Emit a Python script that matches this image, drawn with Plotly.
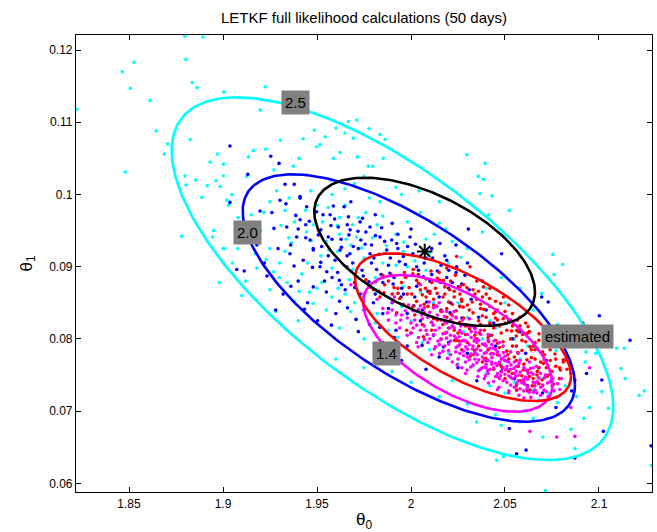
import numpy as np
import plotly.graph_objects as go

# ---------------- axes ----------------
x_range = [1.8218, 2.1282]
y_range = [0.0588, 0.12208]
x_ticks = [1.85, 1.9, 1.95, 2.0, 2.05, 2.1]
x_tick_labels = ["1.85", "1.9", "1.95", "2", "2.05", "2.1"]
y_ticks = [0.06, 0.07, 0.08, 0.09, 0.10, 0.11, 0.12]
y_tick_labels = ["0.06", "0.07", "0.08", "0.09", "0.1", "0.11", "0.12"]

# ---------------- scatter samples (theta0, theta1) ----------------
cyan_pts = [
    (1.8464, .1170), (1.8527, .1183), (1.8507, .1147), (1.8612, .1130), (1.8803, .1187), (1.8837, .1155),
    (1.8862, .1148), (1.9005, .1142), (1.9225, .1149), (1.9198, .1117), (1.8645, .1088), (1.8706, .1070),
    (1.8688, .1056), (1.8480, .1031), (1.8780, .0942), (1.8825, .1076), (1.8931, .1045), (1.8970, .1056),
    (1.9002, .1042), (1.8798, .1026), (1.8803, .1013), (1.8855, .1020), (1.8887, .0996), (1.8916, .1012),
    (1.8963, .1019), (1.8984, .1011), (1.9002, .1026), (1.9020, .0992), (1.9048, .1000), (1.9126, .1025),
    (1.9135, .1052), (1.9161, .1061), (1.9227, .1063), (1.9271, .1034), (1.9305, .1075), (1.9374, .1039),
    (1.9404, .1050), (1.9426, .1077), (1.9486, .1089), (1.9499, .1066), (1.9516, .1069), (1.9544, .1080),
    (1.9587, .1050), (1.9601, .1092), (1.9623, .1058), (1.9649, .1085), (1.9667, .1101), (1.9693, .1078),
    (1.9711, .1103), (1.9715, .1052), (1.9777, .1091), (1.9773, .1039), (1.9796, .1039), (1.9835, .1083),
    (1.9862, .1076), (1.9853, .1050), (1.9009, .0925), (1.9078, .0925), (1.8945, .0941), (1.8797, .1219),
    (1.8893, .1218), (1.8222, .1118), (2.0715, .0590),
    (2.0297, .1055), (2.0394, .1043), (2.0358, .1025), (2.0385, .1021), (2.0367, .1001), (2.0431, .0998),
    (2.0523, .0978), (2.0412, .0972), (2.0754, .0917), (2.0807, .0903), (2.0761, .0889), (2.0695, .0863),
    (2.0917, .0821), (2.0983, .0780), (2.1094, .0787), (2.1135, .0787), (2.1117, .0759), (2.1139, .0745),
    (2.1214, .0722), (2.1241, .0728), (2.1015, .0727), (2.1050, .0704), (2.0926, .0768), (2.0931, .0782),
    (2.0772, .0784), (2.0651, .0729), (2.0701, .0664), (2.0873, .0648), (2.0456, .0632), (2.1280, .0625),
    (2.0349, .0685), (2.0491, .0637),
    (1.955, .0935), (1.948, .0958), (1.962, .0945), (1.938, .0962), (1.945, .0905), (1.952, .0915),
    (1.968, .0930), (1.975, .0912), (1.958, .0898), (1.942, .0890), (1.930, .0905), (1.925, .0925),
    (1.935, .0940), (1.920, .0950), (1.915, .0972), (1.985, .0905), (1.990, .0888), (1.978, .0872),
    (1.965, .0862), (1.950, .0870), (1.938, .0852), (1.925, .0868), (1.912, .0880), (1.905, .0905),
    (1.918, .0898), (1.928, .0838), (1.940, .0825), (1.955, .0840), (1.970, .0850), (1.982, .0835),
    (1.995, .0845), (2.005, .0865), (2.012, .0850), (2.000, .0825), (1.988, .0812), (1.975, .0800),
    (1.962, .0815), (2.018, .0825), (2.028, .0810), (2.038, .0800), (2.045, .0815), (2.035, .0780),
    (2.048, .0765), (2.058, .0772), (2.025, .0765), (2.010, .0785), (2.062, .0755), (2.070, .0745),
    (2.055, .0740), (2.042, .0735), (2.068, .0715), (2.078, .0712), (2.060, .0700), (1.998, .0900),
    (2.008, .0895), (2.020, .0905), (2.030, .0890), (1.972, .0968), (1.982, .0958), (1.992, .0945),
    (1.965, .0985), (1.958, .1000), (1.978, .0995), (1.992, .1010), (2.005, .0975), (2.015, .0960),
    (1.900, .0925), (1.895, .0950), (1.910, .0860), (1.898, .0878), (1.960, .0772), (1.975, .0760),
    (1.990, .0755), (2.000, .0740), (2.015, .0720), (2.030, .0710), (2.045, .0695), (2.022, .0742),
    (1.944, .0978), (1.953, .0962), (1.961, .0921), (1.971, .0941), (1.947, .0936), (1.933, .0921),
    (1.987, .0929), (1.996, .0921), (2.002, .0908), (1.969, .0896), (1.981, .0885), (2.025, .0850),
    (1.925, .0990), (1.933, .0978), (1.941, .0995), (1.950, .0985), (1.956, .0982), (1.962, .0968),
    (1.969, .0958), (1.976, .0975), (1.985, .0970), (1.998, .0962), (1.912, .0945), (1.908, .0968),
    (1.903, .0985), (1.923, .0910), (1.930, .0885), (1.946, .0865), (1.958, .0858), (1.968, .0838),
    (1.981, .0822), (1.993, .0802), (2.006, .0795), (2.020, .0780), (2.033, .0762), (2.040, .0752),
    (2.050, .0725), (2.063, .0730), (2.073, .0725), (2.082, .0735), (2.088, .0720), (2.095, .0705),
    (2.058, .0685), (2.048, .0680), (2.065, .0690), (2.085, .0675), (2.092, .0690), (2.030, .0830),
    (2.042, .0825), (2.055, .0800), (2.062, .0790), (2.072, .0800), (2.083, .0790), (2.090, .0805),
    (2.078, .0820), (2.065, .0840), (2.050, .0850), (2.040, .0870), (2.048, .0885), (2.058, .0870),
    (2.030, .0925), (2.022, .0935), (2.038, .0948), (2.015, .0990), (1.995, .1000), (1.970, .1015),
    (2.008, .0938),
    (1.9445, .0948), (1.9512, .0945), (1.9563, .0923), (1.9608, .0957), (1.9655, .0938), (1.9738, .0926),
    (1.9795, .0940), (1.9859, .0919), (1.9921, .0902), (1.9962, .0934), (2.0041, .0889), (2.0097, .0918),
    (1.9363, .0933), (1.9308, .0957), (1.9269, .0893), (1.9342, .0878), (1.9405, .0866), (1.9479, .0849),
    (1.9526, .0878), (1.9612, .0870), (1.9672, .0882), (1.9745, .0858), (1.9817, .0868), (1.9886, .0856),
    (1.9958, .0872), (2.0027, .0838), (2.0088, .0830), (1.9172, .0918), (1.9098, .0940), (1.9155, .0960),
    (1.9218, .0975), (1.9285, .1005), (1.9352, .0995), (1.9467, .1005), (1.9573, .1020), (1.9648, .1008),
    (1.9750, .1025), (1.9835, .0990), (2.0042, .1005), (2.0124, .0945), (2.0185, .0952), (2.0265, .0913),
]

blue_pts = [
    (1.9037, .1067), (1.9254, .1053), (1.9298, .1043), (1.9132, .1028), (1.9037, .0989), (1.9073, .0896),
    (1.9113, .0894), (1.9197, .0977), (1.9271, .0953), (1.9303, .0992), (1.9330, .1014), (1.9379, .1014),
    (1.9410, .0997), (1.9339, .0955), (1.9410, .0965), (1.9445, .0983), (1.9480, .0923), (1.9507, .0944),
    (1.9335, .0987), (1.9410, .0995), (1.9498, .0976), (1.9587, .0984), (1.9644, .0983), (1.9667, .0969),
    (1.9613, .0955), (1.9676, .0951), (1.9729, .0962), (1.9782, .0955), (1.9835, .0941), (1.9733, .0937),
    (1.9693, .0928), (1.9623, .0923), (1.9560, .0941), (1.9463, .0937), (1.9392, .0941), (1.9356, .0918),
    (1.9427, .0909), (1.9516, .0900), (1.9596, .0909), (1.9658, .0900), (1.9782, .0918), (1.9871, .0923),
    (1.9924, .0932), (1.9959, .0914), (1.9995, .0941), (2.0030, .0900), (2.0154, .0932), (2.0190, .0909),
    (2.0243, .0900), (2.0287, .0888), (1.9817, .0896), (1.9746, .0887), (1.9888, .0891), (1.9977, .0887),
    (2.1002, .0832), (2.1165, .0798), (2.1015, .0743), (2.0934, .0752), (2.0855, .0728), (2.0771, .0705),
    (2.1023, .0672), (2.0872, .0635), (2.0612, .0646), (2.0562, .0641), (2.0523, .0676), (2.1277, .0652),
    (2.0730, .0851), (2.0695, .0858), (2.0482, .0918), (2.0305, .0952), (2.0239, .0930),
    (1.955, .0865), (1.962, .0852), (1.970, .0878), (1.975, .0840), (1.981, .0862), (1.948, .0872),
    (1.958, .0885), (1.965, .0868), (1.990, .0850), (1.995, .0870), (2.002, .0858), (1.985, .0835),
    (1.978, .0820), (1.992, .0812), (2.005, .0825), (2.012, .0805), (2.020, .0795), (2.030, .0780),
    (2.040, .0770), (2.048, .0755), (2.055, .0745), (2.062, .0735), (2.070, .0725), (2.035, .0742),
    (2.025, .0760), (2.015, .0775), (1.998, .0790), (2.045, .0790), (2.058, .0810), (2.065, .0790),
    (2.072, .0770), (2.052, .0825), (2.040, .0840), (2.032, .0855), (2.020, .0870), (2.010, .0880),
    (1.940, .0880), (1.932, .0862), (1.945, .0850), (1.960, .0835), (1.972, .0810), (1.985, .0795),
    (1.995, .0770), (2.008, .0758), (1.928, .0840), (1.952, .0906), (1.966, .0915), (1.979, .0905),
    (1.988, .0902), (2.008, .0912), (2.014, .0894), (2.022, .0878), (1.944, .0958), (1.957, .0972),
    (1.968, .0990), (1.990, .0960), (2.000, .0952), (1.922, .0905), (1.918, .0930), (1.926, .0975),
    (1.952, .0951), (1.958, .0938), (1.963, .0927), (1.967, .0944), (1.972, .0925), (1.976, .0948),
    (1.979, .0930), (1.983, .0917), (1.986, .0935), (1.989, .0912), (1.993, .0925), (1.997, .0903),
    (2.001, .0918), (2.004, .0895), (2.007, .0905), (2.011, .0889), (2.016, .0902), (2.019, .0885),
    (2.024, .0892), (2.027, .0876), (2.031, .0868), (1.985, .0878), (1.991, .0885), (1.996, .0862),
    (2.003, .0873), (2.009, .0866), (2.015, .0858), (2.021, .0850), (1.974, .0895), (1.969, .0905),
    (1.961, .0892), (1.956, .0915), (1.948, .0925), (1.944, .0940), (1.940, .0952), (1.936, .0930),
    (1.954, .0880), (1.963, .0875), (1.973, .0862), (1.980, .0850), (1.988, .0842), (1.998, .0835),
    (2.006, .0840), (2.026, .0845), (2.036, .0830), (2.044, .0822), (2.054, .0800), (2.061, .0780),
    (2.068, .0760), (2.075, .0745), (2.050, .0770), (2.042, .0805), (2.034, .0815), (2.016, .0840),
    (1.993, .0945), (2.011, .0925), (1.981, .0972), (2.018, .0915), (2.030, .0905), (2.038, .0880),
    (1.9525, .0928), (1.9574, .0957), (1.9628, .0938), (1.9675, .0918), (1.9718, .0949), (1.9756, .0931),
    (1.9803, .0912), (1.9844, .0954), (1.9897, .0937), (1.9938, .0907), (1.9982, .0928), (2.0024, .0931),
    (2.0066, .0886), (2.0115, .0912), (2.0157, .0878), (2.0201, .0895), (2.0252, .0872), (1.9476, .0899),
    (1.9552, .0893), (1.9619, .0881), (1.9701, .0871), (1.9776, .0879), (1.9841, .0889), (1.9905, .0876),
    (1.9947, .0858), (2.0015, .0846), (2.0083, .0851), (2.0137, .0845), (2.0208, .0836), (2.0271, .0829),
    (1.9387, .0971), (1.9459, .0963), (1.9532, .0972), (1.9594, .0966), (1.9661, .0958), (1.9742, .0967),
    (1.9811, .0943), (1.9378, .0901), (1.9293, .0925), (1.9234, .0887), (1.9361, .0873), (1.9433, .0841),
    (1.9503, .0825), (1.9577, .0819), (1.9662, .0843), (1.9708, .0827), (1.9834, .0816), (1.9911, .0802),
    (2.0059, .0791), (2.0173, .0789),
]

red_pts = [
    (2.0243, .0914), (2.0314, .0900), (2.0154, .0881), (2.0012, .0896), (2.0101, .0863), (2.0385, .0872),
    (2.0491, .0858), (2.0278, .0844), (2.0190, .0830), (2.0420, .0822), (2.0562, .0812), (2.0633, .0789),
    (2.0598, .0757), (2.0704, .0766), (2.0562, .0729), (2.0456, .0748), (2.0314, .0776), (2.0243, .0798),
    (2.0066, .0803), (1.9977, .0812), (1.9924, .0836), (1.9835, .0858), (1.9782, .0872), (2.0030, .0881),
    (2.0633, .0729), (2.0810, .0771),
    (2.005, .0868), (2.012, .0855), (2.018, .0872), (2.022, .0848), (2.026, .0862), (2.031, .0840),
    (2.035, .0855), (2.038, .0832), (2.042, .0845), (2.046, .0826), (2.050, .0838), (2.054, .0818),
    (2.058, .0830), (2.062, .0808), (2.066, .0795), (2.070, .0782), (2.074, .0770), (2.068, .0760),
    (2.063, .0748), (2.058, .0742), (2.052, .0755), (2.047, .0765), (2.043, .0780), (2.039, .0792),
    (2.034, .0805), (2.029, .0818), (2.024, .0830), (2.019, .0842), (2.014, .0826), (2.009, .0845),
    (2.002, .0833), (1.996, .0848), (1.990, .0862), (1.986, .0875), (1.980, .0868), (1.976, .0882),
    (1.995, .0878), (2.001, .0890), (2.008, .0883), (2.015, .0892), (2.021, .0880), (2.028, .0875),
    (2.033, .0868), (2.040, .0862), (2.045, .0852), (2.052, .0847), (2.057, .0810), (2.061, .0822),
    (2.048, .0808), (2.044, .0815), (2.037, .0820), (2.030, .0795), (2.025, .0808), (2.020, .0815),
    (2.016, .0800), (2.011, .0812), (2.006, .0820), (2.000, .0808), (2.027, .0785), (2.033, .0778),
    (2.038, .0768), (2.044, .0758), (2.050, .0745), (2.056, .0735), (2.062, .0728), (2.068, .0738),
    (2.073, .0750), (2.077, .0762), (2.064, .0785), (2.059, .0798), (2.053, .0800), (2.047, .0788),
    (2.041, .0802), (2.036, .0790), (2.031, .0828), (2.026, .0845), (2.017, .0858), (2.013, .0870),
    (2.008, .0858), (1.998, .0862), (2.003, .0852), (2.049, .0828), (2.055, .0775), (2.060, .0765),
    (2.066, .0772), (2.071, .0792), (2.079, .0745), (2.083, .0758), (2.0914, .0822), (2.0872, .0743),
    (2.035, .0880), (2.042, .0870), (1.985, .0888), (2.019, .0898), (2.023, .0866), (2.037, .0848),
    (2.054, .0835), (2.045, .0838), (2.011, .0878), (1.993, .0870), (2.056, .0790), (2.067, .0750),
    (1.983, .0866), (1.988, .0880), (1.991, .0871), (1.994, .0856), (1.997, .0885), (1.999, .0871),
    (2.001, .0845), (2.004, .0877), (2.006, .0861), (2.007, .0836), (2.010, .0866), (2.012, .0847),
    (2.014, .0884), (2.016, .0838), (2.018, .0862), (2.020, .0851), (2.021, .0826), (2.023, .0858),
    (2.024, .0839), (2.027, .0852), (2.028, .0829), (2.030, .0847), (2.032, .0818), (2.033, .0836),
    (2.036, .0825), (2.037, .0842), (2.039, .0812), (2.040, .0830), (2.042, .0820), (2.043, .0805),
    (2.046, .0840), (2.047, .0818), (2.049, .0796), (2.051, .0812), (2.053, .0826), (2.054, .0790),
    (2.056, .0804), (2.058, .0818), (2.059, .0784), (2.061, .0796), (2.063, .0810), (2.064, .0774),
    (2.066, .0785), (2.068, .0798), (2.069, .0768), (2.071, .0778), (2.072, .0760), (2.074, .0785),
    (2.075, .0755), (2.077, .0772), (2.079, .0760), (2.081, .0768), (2.062, .0756), (2.057, .0762),
    (2.052, .0772), (2.046, .0778), (2.041, .0785), (2.035, .0800), (2.029, .0806), (2.023, .0812),
    (2.017, .0820), (2.012, .0828), (2.007, .0848), (2.045, .0798), (2.051, .0783), (2.056, .0770),
    (2.065, .0745), (2.070, .0735), (2.060, .0740), (2.048, .0762), (2.034, .0862), (2.026, .0872),
    (2.044, .0835), (2.038, .0858), (2.050, .0822),
    (1.9812, .0879), (1.9856, .0864), (1.9893, .0889), (1.9931, .0863), (1.9965, .0892), (2.0004, .0862),
    (2.0039, .0889), (2.0077, .0870), (2.0106, .0894), (2.0139, .0863), (2.0172, .0881), (2.0205, .0868),
    (2.0236, .0888), (2.0268, .0855), (2.0297, .0871), (2.0326, .0851), (2.0359, .0866), (2.0387, .0841),
    (2.0418, .0856), (2.0449, .0829), (2.0477, .0849), (2.0506, .0831), (2.0535, .0811), (2.0566, .0826),
    (2.0594, .0806), (2.0623, .0817), (2.0652, .0790), (2.0681, .0807), (2.0709, .0771), (2.0738, .0793),
    (2.0766, .0779), (2.0795, .0757), (2.0823, .0771), (2.0851, .0752), (2.0162, .0839), (2.0214, .0834),
    (2.0259, .0823), (2.0311, .0814), (2.0364, .0808), (2.0413, .0796), (2.0461, .0794), (2.0515, .0778),
    (2.0568, .0781), (2.0617, .0771), (2.0672, .0755), (2.0724, .0748), (2.0071, .0843), (2.0109, .0823),
    (2.0256, .0797), (2.0338, .0784), (2.0397, .0773), (2.0487, .0759), (2.0539, .0752), (2.0589, .0749),
    (2.0645, .0735), (2.0697, .0743), (2.0758, .0737), (2.0183, .0808), (2.0231, .0798),
]

magenta_pts = [
    (1.985, .0842), (1.988, .0826), (1.990, .0851), (1.992, .0833), (1.994, .0815), (1.996, .0847),
    (1.998, .0829), (2.000, .0808), (2.001, .0839), (2.003, .0819), (2.004, .0802), (2.005, .0846),
    (2.006, .0828), (2.008, .0812), (2.009, .0795), (2.010, .0837), (2.011, .0823), (2.012, .0806),
    (2.013, .0789), (2.014, .0833), (2.015, .0815), (2.016, .0799), (2.017, .0783), (2.018, .0824),
    (2.019, .0809), (2.020, .0793), (2.021, .0778), (2.022, .0818), (2.023, .0804), (2.024, .0788),
    (2.025, .0772), (2.026, .0812), (2.027, .0797), (2.028, .0783), (2.029, .0768), (2.030, .0806),
    (2.031, .0792), (2.032, .0779), (2.033, .0764), (2.034, .0800), (2.035, .0786), (2.036, .0771),
    (2.037, .0758), (2.038, .0793), (2.039, .0780), (2.040, .0765), (2.041, .0752), (2.042, .0787),
    (2.043, .0774), (2.044, .0760), (2.045, .0748), (2.046, .0782), (2.047, .0768), (2.048, .0754),
    (2.049, .0742), (2.050, .0776), (2.051, .0762), (2.052, .0749), (2.053, .0736), (2.055, .0768),
    (2.056, .0755), (2.057, .0742), (2.058, .0731), (2.060, .0760), (2.061, .0747), (2.062, .0734),
    (2.064, .0753), (2.065, .0740), (2.066, .0729), (2.068, .0746), (2.070, .0736), (2.072, .0727),
    (2.003, .0795), (2.007, .0842), (2.019, .0838), (2.024, .0829), (2.027, .0760), (2.033, .0818),
    (2.036, .0756), (2.041, .0806), (2.044, .0741), (2.047, .0795), (2.053, .0782), (2.058, .0770),
    (2.063, .0768), (2.015, .0850), (2.031, .0828), (2.039, .0745), (2.052, .0725), (2.069, .0722),
    (2.075, .0735), (1.998, .0805), (1.982, .0855), (2.011, .0778), (2.022, .0768), (2.029, .0752),
    (2.046, .0730), (2.060, .0718), (2.037, .0812), (2.049, .0790), (2.057, .0780), (2.065, .0760),
    (2.0872, .0665), (2.0775, .0664), (2.0633, .0672), (2.0772, .0719), (2.085, .0705), (2.080, .0745),
    (1.975, .0862), (1.968, .0875), (2.005, .0875), (2.095, .0760), (2.018, .0790), (2.026, .0780),
    (2.034, .0772), (2.043, .0765), (2.051, .0758), (2.032, .0802), (2.040, .0790), (2.021, .0805),
    (1.992, .0822), (1.997, .0839), (2.002, .0826), (2.004, .0841), (2.007, .0818), (2.009, .0830),
    (2.012, .0843), (2.013, .0812), (2.016, .0826), (2.017, .0807), (2.019, .0822), (2.021, .0797),
    (2.023, .0815), (2.024, .0801), (2.026, .0792), (2.027, .0808), (2.028, .0777), (2.029, .0797),
    (2.030, .0786), (2.031, .0771), (2.032, .0810), (2.033, .0790), (2.034, .0781), (2.035, .0767),
    (2.036, .0798), (2.037, .0784), (2.038, .0775), (2.039, .0761), (2.040, .0781), (2.041, .0770),
    (2.042, .0758), (2.043, .0792), (2.044, .0779), (2.045, .0766), (2.046, .0752), (2.047, .0745),
    (2.048, .0772), (2.049, .0760), (2.050, .0751), (2.051, .0740), (2.052, .0768), (2.053, .0758),
    (2.054, .0745), (2.055, .0733), (2.056, .0762), (2.057, .0750), (2.059, .0739), (2.060, .0728),
    (2.061, .0757), (2.062, .0744), (2.063, .0726), (2.065, .0751), (2.066, .0739), (2.067, .0725),
    (2.069, .0733), (2.071, .0746), (2.073, .0720), (2.074, .0741), (2.076, .0728), (2.078, .0738),
    (2.015, .0792), (2.020, .0784), (2.025, .0790), (2.030, .0775), (2.035, .0795), (2.040, .0760),
    (2.045, .0785), (2.050, .0770), (2.055, .0752), (2.060, .0742), (2.010, .0800), (2.005, .0812),
    (2.000, .0822), (1.995, .0833), (1.990, .0840), (2.022, .0832), (2.028, .0820), (2.034, .0814),
    (2.041, .0798), (2.047, .0777),
    (2.0012, .0815), (2.0058, .0833), (2.0085, .0806), (2.0118, .0819), (2.0143, .0797), (2.0167, .0838),
    (2.0189, .0801), (2.0213, .0826), (2.0238, .0782), (2.0256, .0803), (2.0274, .0826), (2.0291, .0789),
    (2.0318, .0761), (2.0336, .0797), (2.0352, .0778), (2.0371, .0806), (2.0389, .0771), (2.0407, .0756),
    (2.0423, .0779), (2.0441, .0797), (2.0458, .0763), (2.0476, .0749), (2.0492, .0781), (2.0511, .0769),
    (2.0529, .0747), (2.0547, .0759), (2.0563, .0738), (2.0581, .0754), (2.0598, .0744), (2.0617, .0731),
    (2.0635, .0759), (2.0652, .0726), (2.0671, .0741), (2.0689, .0752), (2.0708, .0729), (2.0726, .0739),
    (2.0097, .0851), (2.0135, .0845), (2.0178, .0831), (2.0229, .0838), (2.0265, .0818), (2.0308, .0817),
    (2.0345, .0809), (2.0394, .0793), (2.0437, .0787), (2.0485, .0773), (2.0532, .0764), (2.0575, .0766),
    (2.0623, .0752), (2.0668, .0762), (2.0194, .0773), (2.0245, .0764), (2.0298, .0757), (2.0356, .0748),
    (2.0412, .0739), (2.0468, .0733), (2.0521, .0728), (2.0574, .0722), (2.0638, .0719), (1.9945, .0826),
    (1.9987, .0847), (2.0038, .0789), (2.0071, .0799), (2.0152, .0780), (2.0207, .0815), (2.0281, .0798),
    (2.0327, .0786), (2.0378, .0760), (2.0429, .0768), (2.0503, .0757), (2.0556, .0748), (2.0606, .0737),
    (2.0659, .0735), (2.0715, .0750), (2.0754, .0745), (2.0792, .0730), (1.9876, .0836), (1.9912, .0858),
    (2.0124, .0786), (2.0396, .0749),
]

# ---------------- contour ellipses ----------------
ell_names = ["2.5", "2.0", "1.4", "estimated", "true"]
ell_colors = ["#00FFFF", "#0000FF", "#FF00FF", "#FF0000", "#000000"]
ell_cx = [1.99015, 1.99885, 2.02494, 2.02765, 2.00725]
ell_cy = [0.08834, 0.08566, 0.07938, 0.08162, 0.09205]
ell_sx = [0.11745, 0.08838, 0.05032, 0.05745, 0.05870]
ell_sy = [0.025111, 0.017128, 0.009464, 0.010226, 0.010267]
ell_rho = [-0.706, -0.700, -0.600, -0.660, -0.540]

true_x = [2.0073]
true_y = [0.0921]

label_text = ["2.5", "2.0", "1.4", "estimated"]
label_x = [1.9388, 1.9128, 1.9872, 2.0886]
label_y = [0.1128, 0.09471, 0.07795, 0.08031]

FONT = "Liberation Sans, Arial, Helvetica, sans-serif"

fig = go.Figure()

for pts, col in [(cyan_pts, "#00FFFF"), (blue_pts, "#0000FF"),
                 (red_pts, "#FF0000"), (magenta_pts, "#FF00FF")]:
    fig.add_trace(go.Scatter(
        x=[p[0] for p in pts], y=[p[1] for p in pts], mode="markers",
        marker=dict(color=col, size=3.6, line=dict(width=0)),
        showlegend=False, hoverinfo="skip"))

t = np.linspace(0, 2 * np.pi, 240)
for name, col, cx, cy, sx, sy, r in zip(ell_names, ell_colors, ell_cx, ell_cy, ell_sx, ell_sy, ell_rho):
    ex = cx + sx * np.cos(t)
    ey = cy + sy * (r * np.cos(t) + np.sqrt(1 - r * r) * np.sin(t))
    fig.add_trace(go.Scatter(x=ex, y=ey, mode="lines", name=name,
                             line=dict(color=col, width=2.6), showlegend=False,
                             hoverinfo="skip"))

fig.add_trace(go.Scatter(x=true_x, y=true_y, mode="markers", showlegend=False,
                         marker=dict(symbol="asterisk-open", size=13, color="black",
                                     line=dict(color="black", width=2))))

for txt, lx, ly in zip(label_text, label_x, label_y):
    fig.add_annotation(x=lx, y=ly, text=txt, showarrow=False,
                       bgcolor="#808080", borderpad=3,
                       font=dict(family=FONT, size=15, color="black"))

axis_common = dict(showline=True, linecolor="black", linewidth=1.2, mirror="ticks",
                   ticks="inside", ticklen=5, tickcolor="black", showgrid=False,
                   zeroline=False, tickfont=dict(family=FONT, size=12, color="black"))

fig.update_layout(
    width=657, height=532,
    margin=dict(l=76, r=5, t=35, b=40),
    paper_bgcolor="white", plot_bgcolor="white",
    title=dict(text="LETKF full likelihood calculations (50 days)",
               x=(76 + 652) / 2 / 657, xanchor="center",
               y=1 - 18 / 532, yanchor="middle", yref="container",
               font=dict(family=FONT, size=15, color="black")),
    xaxis=dict(range=x_range, tickvals=x_ticks, ticktext=x_tick_labels,
               title=dict(text="θ<sub>0</sub>", standoff=4,
                          font=dict(family=FONT, size=17, color="black")),
               **axis_common),
    yaxis=dict(range=y_range, tickvals=y_ticks, ticktext=y_tick_labels,
               title=dict(text="θ<sub>1</sub>", standoff=12,
                          font=dict(family=FONT, size=17, color="black")),
               **axis_common),
)

fig.write_html("out.html", config={"displayModeBar": False},
               post_script="document.body.style.margin='0';document.body.style.overflow='hidden';")
